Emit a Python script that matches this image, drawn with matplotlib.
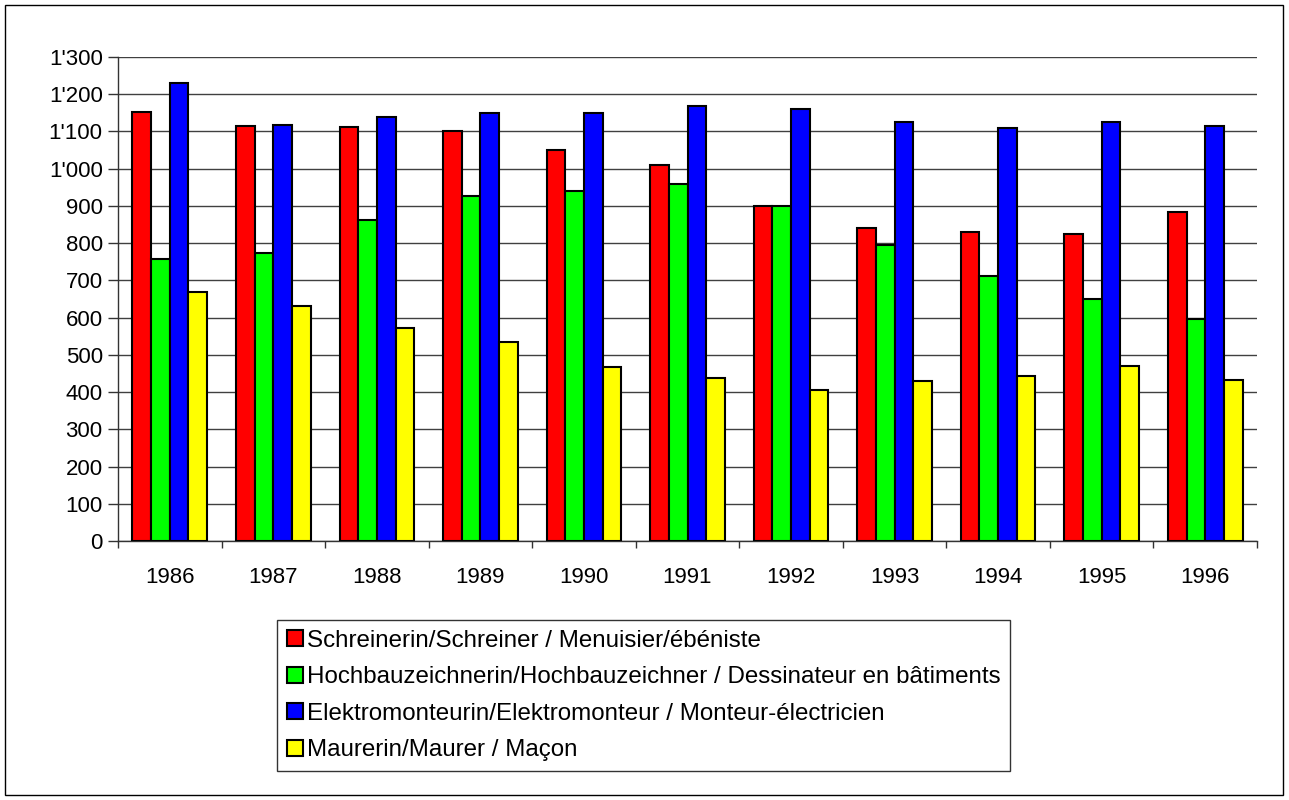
import matplotlib
matplotlib.use("Agg")
import matplotlib.pyplot as plt
from matplotlib.patches import Rectangle
from matplotlib.ticker import FuncFormatter, MultipleLocator
import numpy as np

plt.rcParams['font.family'] = ['Liberation Sans', 'DejaVu Sans']

years = ["1986", "1987", "1988", "1989", "1990", "1991", "1992", "1993", "1994", "1995", "1996"]
schreiner = [1153, 1115, 1112, 1100, 1050, 1010, 901, 840, 830, 824, 883]
hochbau = [758, 773, 863, 927, 939, 960, 901, 796, 711, 650, 596]
elektro = [1229, 1117, 1140, 1150, 1150, 1169, 1160, 1125, 1109, 1125, 1116]
maurer = [669, 632, 572, 535, 467, 437, 406, 431, 444, 471, 433]

labels = [
    "Schreinerin/Schreiner / Menuisier/ébéniste",
    "Hochbauzeichnerin/Hochbauzeichner / Dessinateur en bâtiments",
    "Elektromonteurin/Elektromonteur / Monteur-électricien",
    "Maurerin/Maurer / Maçon",
]
colors = ["#ff0000", "#00ff00", "#0000ff", "#ffff00"]
series = [schreiner, hochbau, elektro, maurer]

fig = plt.figure(figsize=(12.89, 8.0), dpi=100)
ax = fig.add_axes([118 / 1289, 1 - 541 / 800, (1257 - 118) / 1289, (541 - 57) / 800])

x = np.arange(len(years))
w = 0.18
handles = []
for i, (vals, col, lab) in enumerate(zip(series, colors, labels)):
    b = ax.bar(x + (i - 1.5) * w, vals, width=w, color=col, edgecolor="black",
               linewidth=1.5, label=lab, zorder=3)
    handles.append(b)

ax.set_xlim(-0.5, len(years) - 0.5)
ax.set_ylim(0, 1300)
ax.yaxis.set_major_locator(MultipleLocator(100))
ax.yaxis.set_major_formatter(FuncFormatter(lambda v, p: f"{int(v):,}".replace(",", "'")))
ax.grid(axis="y", color="#404040", linewidth=1, zorder=0)

ax.set_xticks(x)
ax.set_xticklabels(years)
ax.set_xticks(np.arange(-0.5, len(years), 1), minor=True)
ax.tick_params(axis="x", which="major", length=0, pad=19, labelsize=16)
ax.tick_params(axis="x", which="minor", length=5, width=1, direction="out", color="#333333")
ax.tick_params(axis="y", length=7, width=1, labelsize=16, pad=4, color="#333333")

for s in ["top", "right"]:
    ax.spines[s].set_visible(False)
for s in ["left", "bottom"]:
    ax.spines[s].set_color("#333333")
    ax.spines[s].set_linewidth(1)

leg = fig.legend(handles=handles, loc="upper left",
                 bbox_to_anchor=(277 / 1289, 1 - 620 / 800),
                 fontsize=17.4, frameon=True, fancybox=False, edgecolor="black",
                 handlelength=0.66, handleheight=0.66, handletextpad=0.17,
                 labelspacing=0.6, borderpad=0.4, borderaxespad=0)
leg.get_frame().set_linewidth(1)

fig.patches.append(Rectangle((5 / 1289, 5 / 800), 1278 / 1289, 790 / 800,
                             transform=fig.transFigure, fill=False,
                             edgecolor="black", linewidth=1))

fig.savefig("out.png", dpi=100)
